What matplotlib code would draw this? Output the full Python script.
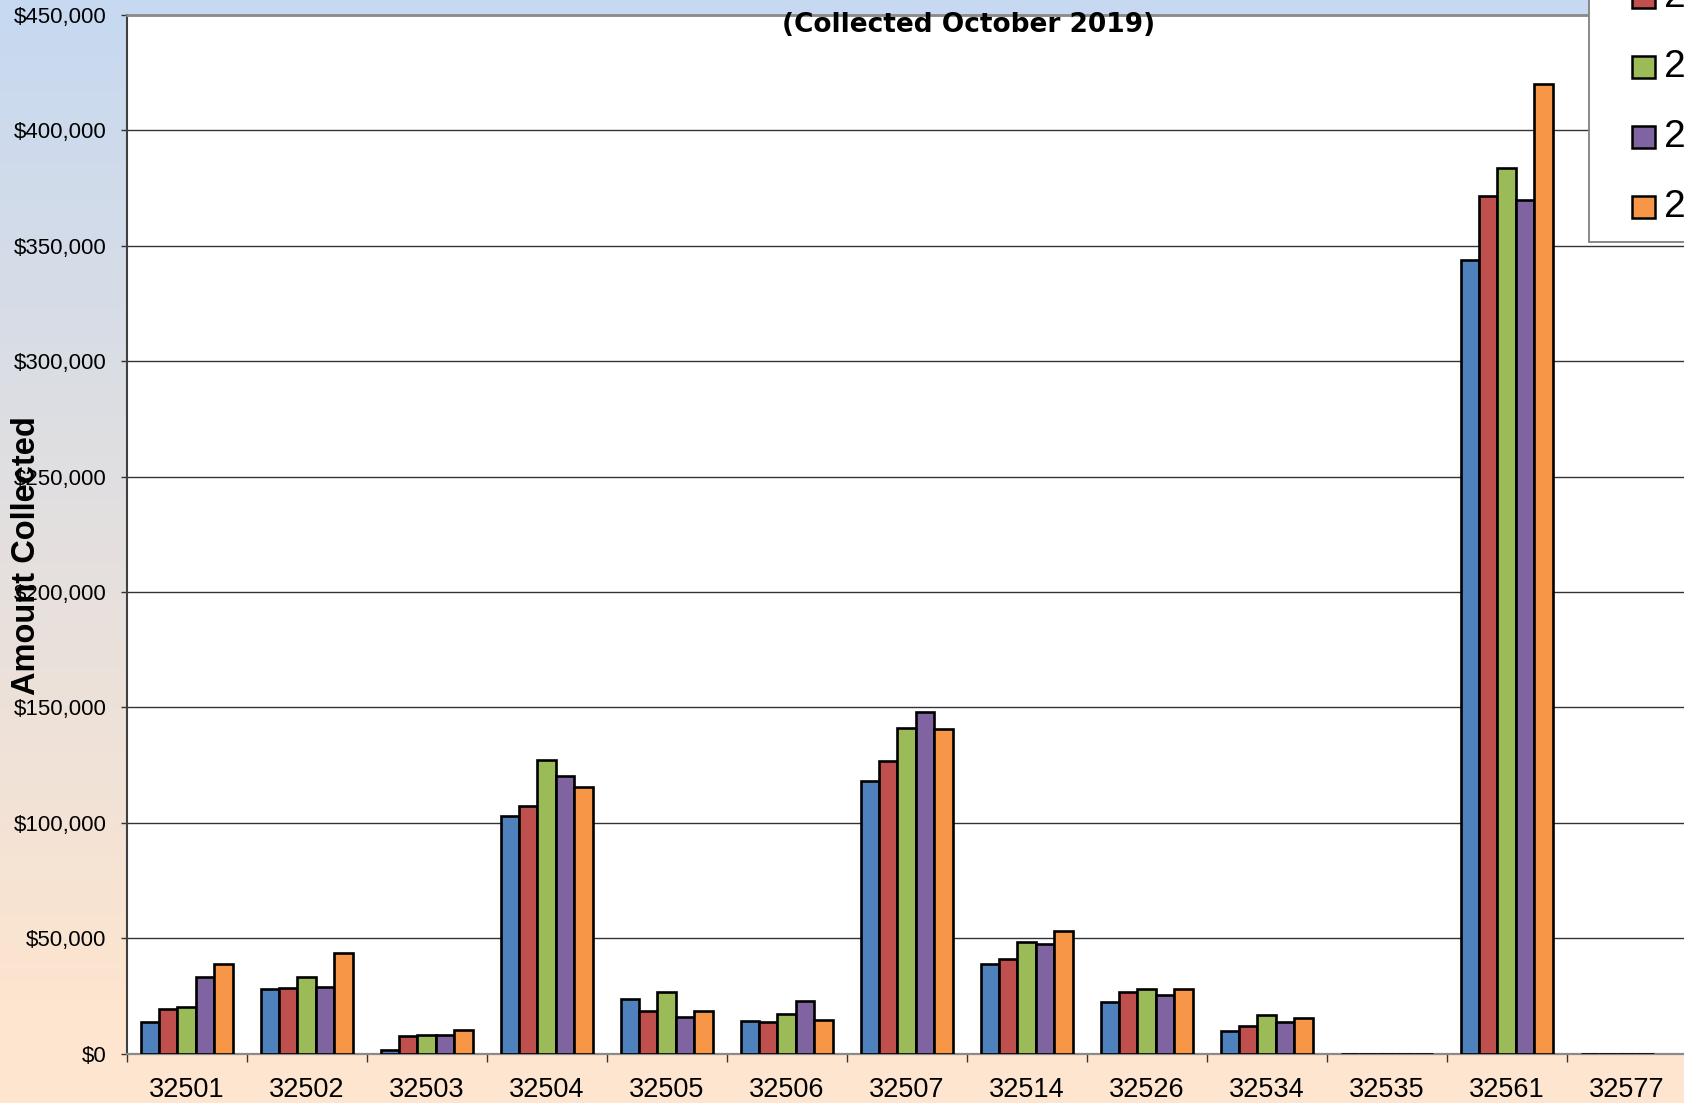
import numpy as np
import matplotlib
matplotlib.use("Agg")
import matplotlib.pyplot as plt
from matplotlib.patches import Rectangle
from matplotlib.ticker import FuncFormatter, FixedLocator
from matplotlib.colors import to_rgb

# ---------------- data ----------------
zip_codes = ["32501", "32502", "32503", "32504", "32505", "32506", "32507",
             "32514", "32526", "32534", "32535", "32561", "32577"]
years = ["2015", "2016", "2017", "2018", "2019"]
colors = ["#4F81BD", "#C0504D", "#9BBB59", "#8064A2", "#F79646"]

s2015 = [13700, 28000, 1600, 102800, 23500, 14000, 118000, 39000, 22500, 9700, 0, 344000, 0]
s2016 = [19500, 28600, 7700, 107400, 18300, 13700, 126600, 40800, 26600, 11800, 0, 371600, 0]
s2017 = [20200, 33100, 7900, 127100, 26600, 17300, 141200, 48400, 28000, 16800, 0, 383700, 0]
s2018 = [33100, 29000, 8200, 120400, 16000, 22900, 148000, 47500, 25600, 13700, 0, 370000, 0]
s2019 = [38800, 43500, 10300, 115600, 18500, 14700, 140600, 53000, 27900, 15600, 0, 420200, np.nan]
series = [s2015, s2016, s2017, s2018, s2019]

title_text = "(Collected October 2019)"
ylabel_text = "Amount Collected"

# ---------------- figure ----------------
W, H = 1684, 1103
fig = plt.figure(figsize=(W / 100, H / 100), dpi=100)

# background gradient (blue top -> peach bottom)
bg = fig.add_axes([0, 0, 1, 1], zorder=-10)
top = np.array(to_rgb("#C6D9F1"))
bot = np.array(to_rgb("#FDE5CF"))
yy = np.linspace(0, 1, H)
t = np.clip(yy * H / 1000.0, 0, 1)[:, None]
grad = top[None, :] * (1 - t) + bot[None, :] * t
bg.imshow(grad[:, None, :], aspect="auto", extent=[0, 1, 0, 1], origin="upper")
bg.set_axis_off()

# main axes in pixel geometry
left_px, right_px = 126.7, 1686.7
top_px, bottom_px = 15.0, 1053.6
ax = fig.add_axes([left_px / W, 1 - bottom_px / H,
                   (right_px - left_px) / W, (bottom_px - top_px) / H])
ax.set_facecolor("white")

n = len(zip_codes)
x = np.arange(n)
group_w = 0.767
bw = group_w / len(series)
for i, (vals, c, yr) in enumerate(zip(series, colors, years)):
    offs = -group_w / 2 + bw * (i + 0.5)
    v = np.array(vals, dtype=float)
    mask = ~np.isnan(v)
    ax.bar(x[mask] + offs, v[mask], width=bw, color=c, edgecolor="black",
           linewidth=1.9, zorder=3, label=yr)

ax.set_xlim(-0.5, n - 0.5)
ax.set_ylim(0, 450000)
ax.set_yticks(np.arange(0, 450001, 50000))
ax.yaxis.set_major_formatter(FuncFormatter(lambda v, p: "${:,.0f}".format(v)))
ax.grid(axis="y", color="#333333", linewidth=1.0, zorder=1)
ax.set_axisbelow(True)

ax.set_xticks(x)
ax.set_xticklabels(zip_codes)
ax.xaxis.set_minor_locator(FixedLocator(np.arange(-0.5, n, 1.0)))
ax.tick_params(axis="x", which="major", length=0, pad=17,
               labelsize=19.5, labelcolor="black")
ax.tick_params(axis="x", which="minor", length=6, width=1.0, color="#333333",
               direction="out")
ax.tick_params(axis="y", length=4.5, width=1.0, color="#333333", pad=10,
               labelsize=16)
for lab in ax.get_xticklabels() + ax.get_yticklabels():
    lab.set_fontfamily("Liberation Sans")

ax.spines["left"].set_color("#404040")
ax.spines["left"].set_linewidth(1.5)
ax.spines["bottom"].set_color("#8a8a8a")
ax.spines["bottom"].set_linewidth(1.6)
ax.spines["top"].set_color("#8a8a8a")
ax.spines["top"].set_linewidth(2.0)
ax.spines["right"].set_visible(False)

# title (second line, first line is off the picture)
fig.text(969 / W, 1 - 25 / H, title_text, ha="center", va="center",
         fontsize=19, fontweight="bold", family="DejaVu Sans", color="black")

# y axis label
fig.text(27 / W, 1 - 556 / H, ylabel_text, rotation=90, ha="center",
         va="center", fontsize=23.5, fontweight="bold",
         family="Liberation Sans", color="black")

# legend (partly outside the picture)
def fx(px):
    return px / W

def fy(py):
    return 1 - py / H

box = Rectangle((fx(1589), fy(242)), fx(200), 300 / H,
                transform=fig.transFigure, facecolor="white",
                edgecolor="#808080", linewidth=1.3, zorder=20)
fig.add_artist(box)
row_centers = [-73, -3, 67, 137, 207]
for yr, c, yc in zip(years, colors, row_centers):
    sq = Rectangle((fx(1632), fy(yc + 11)), 23 / W, 22 / H,
                   transform=fig.transFigure, facecolor=c,
                   edgecolor="black", linewidth=1.8, zorder=21)
    fig.add_artist(sq)
    fig.text(fx(1664), fy(yc), yr, ha="left", va="center", fontsize=28,
             family="Liberation Sans", color="black", zorder=22)

fig.savefig("out.png", dpi=100)
